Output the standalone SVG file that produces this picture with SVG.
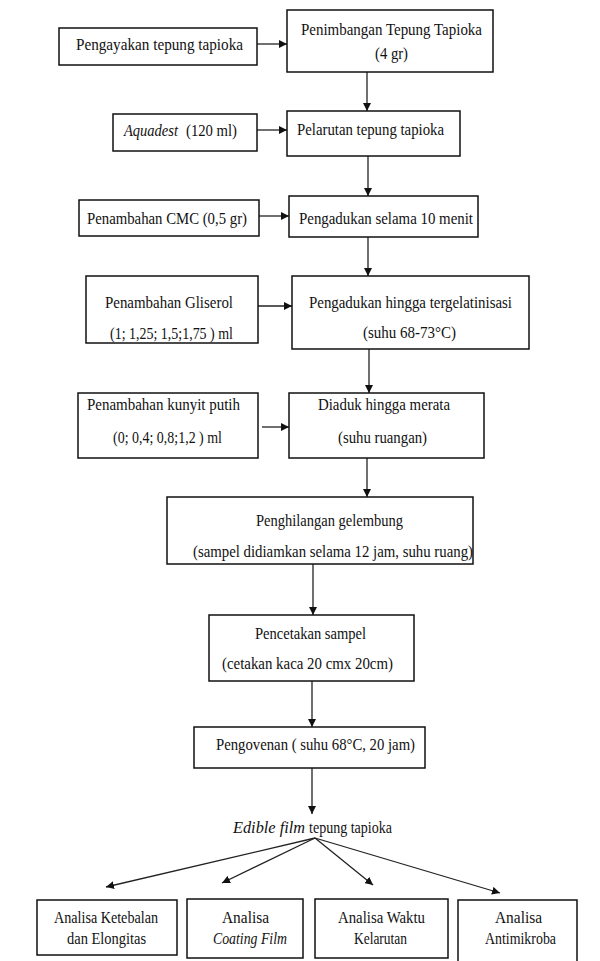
<svg xmlns="http://www.w3.org/2000/svg" width="600" height="961" viewBox="0 0 600 961">
<style>
.b{fill:#fff;stroke:#111;stroke-width:1.5}
.t{font-family:"Liberation Serif","Times New Roman",serif;font-size:17px;fill:#111}
.c{stroke:#222;stroke-width:1.3;fill:none;marker-end:url(#ah)}
</style>
<defs>
<marker id="ah" viewBox="0 0 10 10" refX="10" refY="5" markerWidth="8" markerHeight="8" markerUnits="userSpaceOnUse" orient="auto">
<path d="M0,0 L10,5 L0,10 z" fill="#111"/>
</marker>
</defs>
<rect width="600" height="961" fill="#fff"/>
<g id="connectors">
<line class="c" x1="257" y1="44" x2="287" y2="44"/>
<line class="c" x1="257" y1="130" x2="287" y2="130"/>
<line class="c" x1="367" y1="72" x2="367" y2="111"/>
<line class="c" x1="368" y1="156" x2="368" y2="196"/>
<line class="c" x1="259" y1="216" x2="289" y2="216"/>
<line class="c" x1="368" y1="237" x2="368" y2="276"/>
<line class="c" x1="258" y1="306" x2="292" y2="306"/>
<line class="c" x1="369" y1="349" x2="369" y2="393"/>
<line class="c" x1="262" y1="427" x2="289" y2="427"/>
<line class="c" x1="367" y1="458" x2="367" y2="497"/>
<line class="c" x1="313" y1="564" x2="313" y2="615"/>
<line class="c" x1="312" y1="681" x2="312" y2="727"/>
<line class="c" x1="312" y1="768" x2="312" y2="814"/>
<line class="c" x1="315" y1="838" x2="106" y2="887"/>
<line class="c" x1="315" y1="838" x2="222" y2="883"/>
<line class="c" x1="315" y1="838" x2="373" y2="885"/>
<line class="c" x1="315" y1="838" x2="500" y2="893"/>
</g>
<g id="n1"><rect class="b" x="59" y="28" width="198" height="37"/>
<text class="t" x="76" y="50" textLength="167" lengthAdjust="spacingAndGlyphs">Pengayakan  tepung tapioka</text></g>
<g id="n2"><rect class="b" x="287" y="10" width="206" height="62"/>
<text class="t" x="301" y="35" textLength="181" lengthAdjust="spacingAndGlyphs">Penimbangan Tepung Tapioka</text>
<text class="t" x="375" y="59" textLength="33" lengthAdjust="spacingAndGlyphs">(4 gr)</text></g>
<g id="n3"><rect class="b" x="113" y="114" width="144" height="37"/>
<text class="t" x="124" y="136" textLength="54" lengthAdjust="spacingAndGlyphs" font-style="italic">Aquadest</text>
<text class="t" x="186" y="136" textLength="51" lengthAdjust="spacingAndGlyphs">(120 ml)</text></g>
<g id="n4"><rect class="b" x="287" y="111" width="173" height="45"/>
<text class="t" x="297" y="135" textLength="147" lengthAdjust="spacingAndGlyphs">Pelarutan tepung tapioka</text></g>
<g id="n5"><rect class="b" x="79" y="200" width="180" height="36"/>
<text class="t" x="87" y="224" textLength="160" lengthAdjust="spacingAndGlyphs">Penambahan CMC (0,5 gr)</text></g>
<g id="n6"><rect class="b" x="289" y="196" width="189" height="41"/>
<text class="t" x="299" y="224" textLength="174" lengthAdjust="spacingAndGlyphs">Pengadukan selama 10 menit</text></g>
<g id="n7"><rect class="b" x="86" y="276" width="172" height="67"/>
<text class="t" x="105" y="308" textLength="128" lengthAdjust="spacingAndGlyphs">Penambahan  Gliserol</text>
<text class="t" x="110" y="339" textLength="123" lengthAdjust="spacingAndGlyphs">(1; 1,25; 1,5;1,75 ) ml</text></g>
<g id="n8"><rect class="b" x="292" y="276" width="237" height="73"/>
<text class="t" x="309" y="308" textLength="203" lengthAdjust="spacingAndGlyphs">Pengadukan hingga tergelatinisasi</text>
<text class="t" x="363" y="338" textLength="93" lengthAdjust="spacingAndGlyphs">(suhu 68-73°C)</text></g>
<g id="n9"><rect class="b" x="78" y="393" width="180" height="65"/>
<text class="t" x="87" y="410" textLength="153" lengthAdjust="spacingAndGlyphs">Penambahan kunyit putih</text>
<text class="t" x="113" y="443" textLength="109" lengthAdjust="spacingAndGlyphs">(0; 0,4; 0,8;1,2 ) ml</text></g>
<g id="n10"><rect class="b" x="289" y="393" width="195" height="65"/>
<text class="t" x="318" y="410" textLength="132" lengthAdjust="spacingAndGlyphs">Diaduk hingga merata</text>
<text class="t" x="338" y="443" textLength="89" lengthAdjust="spacingAndGlyphs">(suhu  ruangan)</text></g>
<g id="n11"><rect class="b" x="167" y="497" width="306" height="67"/>
<text class="t" x="256" y="526" textLength="147" lengthAdjust="spacingAndGlyphs">Penghilangan gelembung</text>
<text class="t" x="193" y="557" textLength="280" lengthAdjust="spacingAndGlyphs">(sampel didiamkan selama 12 jam, suhu ruang)</text></g>
<g id="n12"><rect class="b" x="209" y="615" width="205" height="66"/>
<text class="t" x="255" y="639" textLength="111" lengthAdjust="spacingAndGlyphs">Pencetakan  sampel</text>
<text class="t" x="222" y="669" textLength="171" lengthAdjust="spacingAndGlyphs">(cetakan  kaca 20 cmx 20cm)</text></g>
<g id="n13"><rect class="b" x="194" y="727" width="231" height="41"/>
<text class="t" x="216" y="750" textLength="199" lengthAdjust="spacingAndGlyphs">Pengovenan ( suhu 68°C, 20 jam)</text></g>
<g id="n14">
<text class="t" x="233" y="833" textLength="72" lengthAdjust="spacingAndGlyphs" font-style="italic">Edible film</text>
<text class="t" x="309" y="833" textLength="83" lengthAdjust="spacingAndGlyphs">tepung tapioka</text></g>
<g id="n15"><rect class="b" x="37" y="900" width="140" height="55"/>
<text class="t" x="54" y="923" textLength="104" lengthAdjust="spacingAndGlyphs">Analisa Ketebalan</text>
<text class="t" x="67" y="944" textLength="79" lengthAdjust="spacingAndGlyphs">dan Elongitas</text></g>
<g id="n16"><rect class="b" x="187" y="899" width="116" height="59"/>
<text class="t" x="222" y="923" textLength="47" lengthAdjust="spacingAndGlyphs">Analisa</text>
<text class="t" x="213" y="944" textLength="74" lengthAdjust="spacingAndGlyphs" font-style="italic">Coating Film</text></g>
<g id="n17"><rect class="b" x="315" y="899" width="133" height="59"/>
<text class="t" x="338" y="923" textLength="87" lengthAdjust="spacingAndGlyphs">Analisa Waktu</text>
<text class="t" x="354" y="944" textLength="53" lengthAdjust="spacingAndGlyphs">Kelarutan</text></g>
<g id="n18"><path class="b" d="M458,965 V900 H577 V965"/>
<text class="t" x="495" y="923" textLength="47" lengthAdjust="spacingAndGlyphs">Analisa</text>
<text class="t" x="485" y="944" textLength="71" lengthAdjust="spacingAndGlyphs">Antimikroba</text></g>
</svg>
